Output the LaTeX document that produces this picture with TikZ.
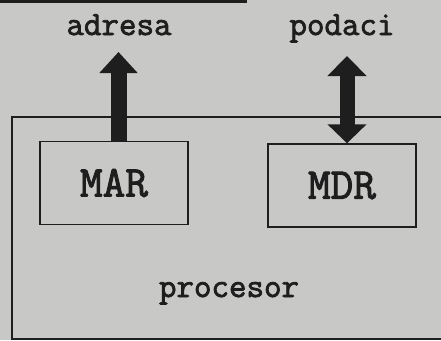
\documentclass[tikz,border=0pt]{standalone}
\usepackage{fontspec}
\setmonofont{Latin Modern Mono}[AutoFakeBold=2.2]
\usepackage{tikz}
\usetikzlibrary{arrows.meta, positioning, calc}
\definecolor{paper}{HTML}{C8C8C6}
\definecolor{ink}{HTML}{1E1E1E}
\tikzset{
  regbox/.style={draw=ink, line width=1.4pt, minimum width=148pt, minimum height=83pt,
    font=\ttfamily\bfseries\fontsize{44}{44}\selectfont, text=ink, inner sep=0pt},
  lbl/.style={font=\ttfamily\bfseries\fontsize{34}{34}\selectfont, text=ink, anchor=base, inner sep=0pt},
  busup/.style={-{Triangle[width=37pt, length=21pt]}, draw=ink, fill=ink, line width=16pt},
  busboth/.style={{Triangle[width=38pt, length=19pt]}-{Triangle[width=38pt, length=20pt]}, draw=ink, line width=15pt}
}
\begin{document}
\begin{tikzpicture}[x=1pt, y=-1pt]
\useasboundingbox (0,0) rectangle (441,340);
\fill[paper] (0,0) rectangle (441,340);
\clip (0,0) rectangle (441,340);
% outer frame
\draw[ink, line width=3pt] (-5,1) -- (247,1);
\draw[ink, line width=2.6pt] (470,117) -- (12,117) -- (12,339) -- (470,339);
% registers
\node[regbox] (mar) at (114,183) {MAR};
\node[regbox] (mdr) at (342,185.5) {MDR};
\node[lbl] (adresa) at (119,35) {adresa};
\node[lbl] (podaci) at (342,35) {podaci};
\node[lbl] (procesor) at (229,297) {procesor};
% buses
\coordinate (atip) at (118.5,52);
\coordinate (dtip) at (347,56);
\draw[busup] (mar.north -| atip) -- (atip);
\draw[busboth] (mdr.north -| dtip) -- (dtip);
\end{tikzpicture}
\end{document}
